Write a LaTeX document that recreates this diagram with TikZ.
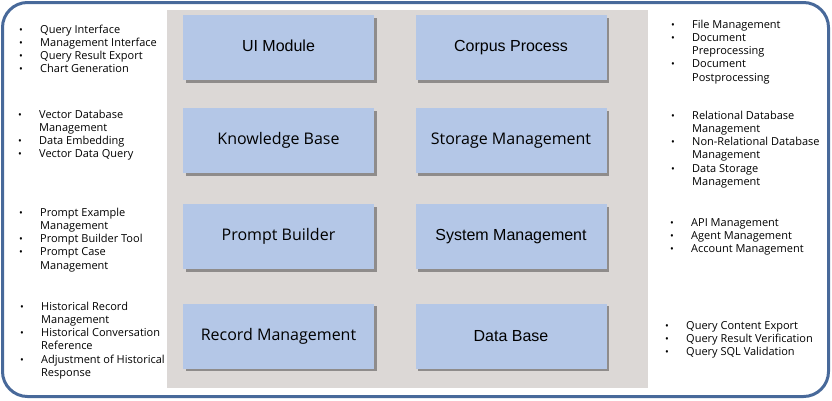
\documentclass[tikz,border=0pt]{standalone}
\usepackage{fontspec}
\setmainfont{Open Sans}
\newfontfamily\arialf{Liberation Sans}
\usetikzlibrary{shadows}
\definecolor{frameblue}{HTML}{48699A}
\definecolor{panelgray}{HTML}{DCD8D6}
\definecolor{boxblue}{HTML}{B4C7E7}
\tikzset{
  modbox/.style={draw=none, fill=boxblue, minimum width=191pt, minimum height=65pt, inner sep=0pt,
    font=\fontsize{16}{18}\selectfont,
    drop shadow={shadow xshift=2.5pt, shadow yshift=-2.5pt, fill=black, opacity=0.35}},
  blist/.style={anchor=base west, inner sep=0pt,
    font=\fontsize{11}{13.3}\selectfont}
}
\newcommand{\blt}{\makebox[21pt][l]{\fontsize{10}{13.3}\selectfont\textbullet}}
\newcommand{\nob}{\hspace*{21pt}}
\newcommand{\blist}[1]{\begin{tabular}[t]{@{}l@{}}#1\end{tabular}}
\begin{document}
\begin{tikzpicture}[x=1pt,y=-1pt]
\useasboundingbox (0,0) rectangle (832,400);
\fill[white] (0,0) rectangle (832,400);
\draw[frameblue, line width=3pt, rounded corners=25pt] (2.5,2.5) rectangle (828.5,396.5);
\fill[panelgray] (167,10) rectangle (648,388);

% module boxes
\node[modbox] (ui)   at (278.5,47.5)  {\raisebox{3pt}{\arialf UI Module}};
\node[modbox] (corp) at (511,47.5)    {\raisebox{3pt}{\arialf Corpus Process}};
\node[modbox] (kb)   at (278.5,140.5) {\raisebox{2.5pt}{Knowledge Base}};
\node[modbox] (stor) at (511,140.5)   {\raisebox{2.5pt}{Storage Management}};
\node[modbox] (pb)   at (278.5,236.5) {\raisebox{2.5pt}{Prompt Builder}};
\node[modbox] (sys)  at (511,236.5)   {\raisebox{2.5pt}{\arialf System Management}};
\node[modbox] (rec)  at (278.5,336)   {\raisebox{3pt}{Record Management}};
\node[modbox] (db)   at (511,336)     {\raisebox{1pt}{\arialf Data Base}};

% left lists
\node[blist] (l1) at (19,33) {\blist{\blt Query Interface\\ \blt Management Interface\\ \blt Query Result Export\\ \blt Chart Generation}};
\node[blist] (l2) at (18,118) {\blist{\blt Vector Database\\ \nob Management\\ \blt Data Embedding\\ \blt Vector Data Query}};
\node[blist] (l3) at (19,216) {\blist{\blt Prompt Example\\ \nob Management\\ \blt Prompt Builder Tool\\ \blt Prompt Case\\ \nob Management}};
\node[blist] (l4) at (20,310) {\blist{\blt Historical Record\\ \nob Management\\ \blt Historical Conversation\\ \nob Reference\\ \blt Adjustment of Historical\\ \nob Response}};

% right lists
\node[blist] (r1) at (671,28) {\blist{\blt File Management\\ \blt Document\\ \nob Preprocessing\\ \blt Document\\ \nob Postprocessing}};
\node[blist] (r2) at (671,119) {\blist{\blt Relational Database\\ \nob Management\\ \blt Non-Relational Database\\ \nob Management\\ \blt Data Storage\\ \nob Management}};
\node[blist] (r3) at (670,226) {\blist{\blt API Management\\ \blt Agent Management\\ \blt Account Management}};
\node[blist] (r4) at (665,329) {\blist{\blt Query Content Export\\ \blt Query Result Verification\\ \blt Query SQL Validation}};
\end{tikzpicture}
\end{document}
